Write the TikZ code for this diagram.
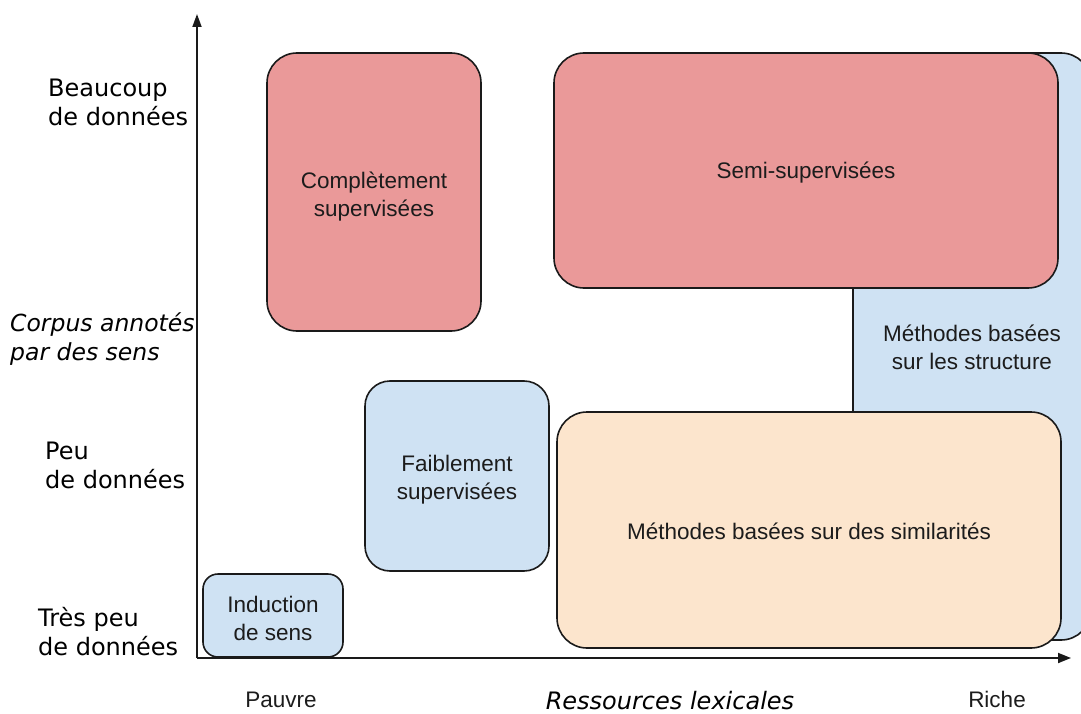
\documentclass[tikz,border=0pt]{standalone}
\usepackage{fontspec}
\setmainfont{Liberation Sans}
\newfontfamily\dejavu{DejaVu Sans}
\usetikzlibrary{arrows.meta}
\definecolor{redfill}{HTML}{EA9999}
\definecolor{bluefill}{HTML}{CFE2F3}
\definecolor{peachfill}{HTML}{FCE5CD}
\definecolor{edge}{HTML}{1A1A1A}
\definecolor{txt}{HTML}{1C1C1C}
\begin{document}
\begin{tikzpicture}[x=1pt,y=-1pt,
  box/.style={draw=edge,line width=1.6pt,rounded corners=30pt,inner sep=0pt,
    align=center,text=txt,font=\fontsize{22.5}{28}\selectfont},
  smallbox/.style={box,rounded corners=15pt},
  boxtext/.style={inner sep=0pt,align=center,text=txt,font=\fontsize{22.5}{28}\selectfont},
  axis/.style={draw=edge,line width=1.8pt},
  lab/.style={anchor=base west,inner sep=0pt,align=left,font=\dejavu\fontsize{24}{29}\selectfont},
  bottomlab/.style={anchor=base,inner sep=0pt,font=\fontsize{22.5}{28}\selectfont,text=txt}]
\useasboundingbox (0,0) rectangle (1081,714);
% axes
\coordinate (O) at (197,658);
\coordinate (ytop) at (197,14);
\coordinate (xend) at (1071,658);
\draw[axis,-{Triangle[length=13pt,width=9pt]}] (O) -- (ytop);
\draw[axis,-{Triangle[length=13pt,width=10pt]}] (O) -- (xend);
% boxes
\node[box,fill=bluefill,minimum width=238pt,minimum height=587pt] (struct) at (972,346.5) {};
\node[box,fill=redfill,minimum width=504pt,minimum height=235pt] (semi) at (806,170.5) {};
\node[boxtext] (semilab) at (806,173) {Semi-supervisées};
\node[box,fill=peachfill,minimum width=504pt,minimum height=236pt] (simil) at (809,530) {};
\node[boxtext] (simillab) at (809,531) {Méthodes basées sur des similarités};
\node[boxtext] (structlab) at (972,347) {Méthodes basées\\sur les structure};
\node[box,fill=redfill,minimum width=214pt,minimum height=278pt] (compl) at (374,192) {};
\node[boxtext] (compllab) at (374,197) {Complètement\\supervisées};
\node[box,fill=bluefill,minimum width=184pt,minimum height=190pt,rounded corners=25pt] (faible) at (457,476) {};
\node[boxtext] (faiblelab) at (457,480) {Faiblement\\supervisées};
\node[smallbox,fill=bluefill,minimum width=140pt,minimum height=83pt] (induc) at (273,615.5) {};
\node[boxtext] (induclab) at (273,618) {Induction\\de sens};
% left labels (base = baseline of last line)
\node[lab] (l1) at (48,126) {Beaucoup\\de données};
\node[lab,font=\dejavu\fontsize{23.5}{28.5}\selectfont] (l2) at (10,360) {\itshape Corpus annotés\\\itshape par des sens};
\node[lab] (l3) at (45,488) {Peu\\de données};
\node[lab] (l4) at (38,655) {Très peu\\de données};
% bottom labels
\node[bottomlab] (pauvre) at (281,707) {Pauvre};
\node[bottomlab] (riche) at (997,707) {Riche};
\node[anchor=base,inner sep=0pt,font=\dejavu\itshape\fontsize{24}{29}\selectfont] (res) at (670,709) {Ressources lexicales};
\end{tikzpicture}
\end{document}
